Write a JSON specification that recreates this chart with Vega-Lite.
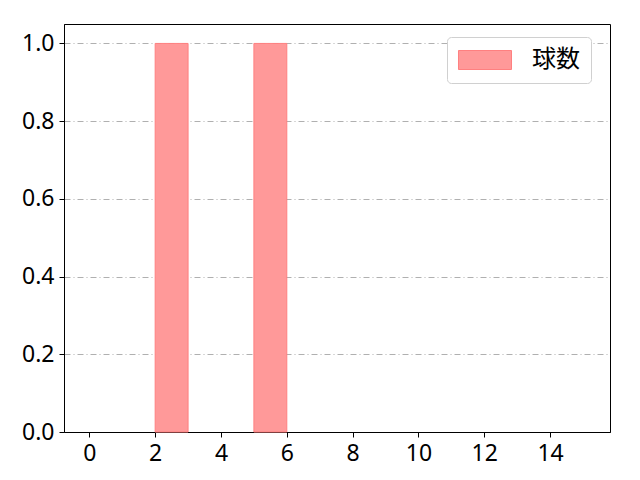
{
  "$schema": "https://vega.github.io/schema/vega-lite/v6.json",
  "autosize": "none",
  "width": 546,
  "height": 408,
  "padding": {"left": 64, "top": 24, "right": 30, "bottom": 48},
  "background": "white",
  "config": {
    "font": "Noto Sans CJK JP",
    "view": {"stroke": "black", "strokeWidth": 1},
    "axis": {
      "labelFont": "Noto Sans",
      "labelFontSize": 23,
      "labelColor": "black",
      "domainColor": "black",
      "tickColor": "black",
      "tickSize": 5,
      "labelPadding": 5,
      "title": null
    }
  },
  "data": {
    "values": [
      {"start": 2, "end": 3, "count": 1, "series": "球数"},
      {"start": 5, "end": 6, "count": 1, "series": "球数"}
    ]
  },
  "mark": {"type": "bar", "fillOpacity": 1, "stroke": "#ff8080", "strokeWidth": 1},
  "encoding": {
    "x": {
      "field": "start",
      "type": "quantitative",
      "scale": {"domain": [-0.77, 15.82], "nice": false, "zero": false},
      "axis": {"values": [0, 2, 4, 6, 8, 10, 12, 14], "grid": false, "labelFlush": false}
    },
    "x2": {"field": "end"},
    "y": {
      "field": "count",
      "type": "quantitative",
      "scale": {"domain": [0, 1.05], "nice": false},
      "axis": {
        "values": [0, 0.2, 0.4, 0.6, 0.8, 1.0],
        "format": ".1f",
        "grid": true,
        "gridColor": "#b0b0b0",
        "gridDash": [6, 3, 1, 3],
        "gridWidth": 1,
        "labelFlush": false
      }
    },
    "y2": {"datum": 0},
    "color": {
      "field": "series",
      "type": "nominal",
      "scale": {"range": ["#ff9999"]},
      "legend": {
        "title": null,
        "orient": "none",
        "legendX": 383,
        "legendY": 13,
        "padding": 11,
        "strokeColor": "#d0d0d0",
        "fillColor": "white",
        "cornerRadius": 4,
        "symbolType": "M-2.79,-1L2.79,-1L2.79,1L-2.79,1Z",
        "symbolSize": 361,
        "symbolOffset": 15,
        "symbolStrokeColor": "#ff8080",
        "symbolStrokeWidth": 1,
        "symbolOpacity": 1,
        "labelFontSize": 24,
        "labelFont": "Noto Sans CJK JP",
        "labelColor": "black",
        "labelOffset": 35
      }
    }
  }
}
